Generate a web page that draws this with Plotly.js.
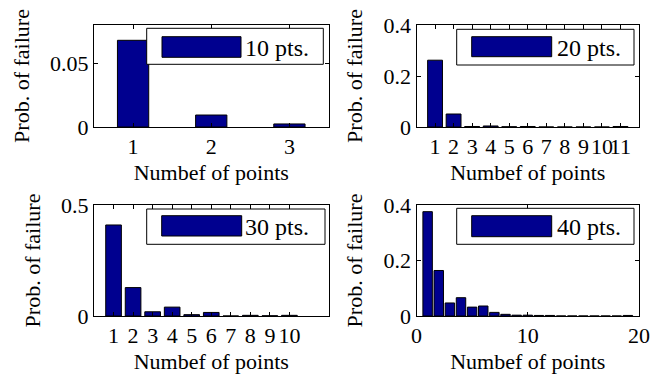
<!DOCTYPE html>
<html><head><meta charset="utf-8">
<script src="https://cdn.plot.ly/plotly-3.0.1.min.js"></script>
<style>html,body{margin:0;padding:0;background:#fff}</style>
</head><body><div id="chart" style="width:666px;height:380px"></div>
<script>
// ---- data ----
const pts10 = [1, 2, 3];
const prob10 = [0.068, 0.0094, 0.0024];
const pts20 = [1, 2, 3, 4, 5, 6, 7, 8, 9, 10, 11];
const prob20 = [0.262, 0.051, 0.002, 0.004, 0.001, 0.002, 0, 0, 0, 0, 0.002];
const pts30 = [1, 2, 3, 4, 5, 6, 7, 8, 9, 10];
const prob30 = [0.41, 0.128, 0.019, 0.040, 0.006, 0.016, 0, 0.003, 0.001, 0.003];
const pts40 = [1, 2, 3, 4, 5, 6, 7, 8, 9, 10, 11, 12, 13, 14, 15, 16, 17, 18, 19];
const prob40 = [0.376, 0.164, 0.047, 0.066, 0.032, 0.036, 0.013, 0.006, 0.003, 0.003, 0.002, 0.002, 0, 0, 0, 0, 0, 0, 0.002];
const seriesNames = ['10 pts.', '20 pts.', '30 pts.', '40 pts.'];
const xTicks10 = [1, 2, 3];
const xTicks20 = [1, 2, 3, 4, 5, 6, 7, 8, 9, 10, 11];
const xTicks30 = [1, 2, 3, 4, 5, 6, 7, 8, 9, 10];
const xTicks40 = [0, 10, 20];
const yTicks10 = [0, 0.05];
const yTicks20 = [0, 0.2, 0.4];
const yTicks30 = [0, 0.5];
const yTicks40 = [0, 0.2, 0.4];
const xTitle = 'Numbef of points';
const yTitle = 'Prob. of failure';

// ---- layout helpers ----
const W = 666, H = 380;
const fx = px => px / W;
const fy = py => 1 - py / H;
const BAR = 'rgb(0,0,143)';
const FONT = '"Liberation Serif", "Times New Roman", serif';

function trace(x, y, xa, ya, w) {
  return {type: 'bar', x: x, y: y, xaxis: xa, yaxis: ya, width: w,
    marker: {color: BAR, line: {color: '#000', width: 1}},
    showlegend: false, hoverinfo: 'none'};
}
function axis(extra) {
  return Object.assign({
    showline: true, linecolor: '#000', linewidth: 1, mirror: 'ticks',
    ticks: 'inside', ticklen: 4, tickcolor: '#000', showgrid: false,
    zeroline: false, tickangle: 0, fixedrange: true, tickmode: 'array',
    tickfont: {family: FONT, size: 22, color: '#000'}
  }, extra);
}
function xax(dom, range, ticks, anchor) {
  return axis({domain: [fx(dom[0]), fx(dom[1])], range: range, tickvals: ticks,
    anchor: anchor, title: {text: xTitle, font: {family: FONT, size: 22, color: '#000'}, standoff: 6}});
}
function yax(dom, range, ticks, anchor) {
  return axis({domain: [fy(dom[1]), fy(dom[0])], range: range, tickvals: ticks,
    anchor: anchor, title: {text: yTitle, font: {family: FONT, size: 22, color: '#000'}, standoff: 14}});
}

const data = [
  trace(pts10, prob10, 'x', 'y', 0.4),
  trace(pts20, prob20, 'x2', 'y2', 0.8),
  trace(pts30, prob30, 'x3', 'y3', 0.8),
  trace(pts40, prob40, 'x4', 'y4', 0.85)
];

const L = [94, 328.5], R = [416.5, 639], T = [25, 127], B = [205, 316];

// legend panels (box, patch, text-left) in pixel positions
const panels = [
  {box: [146.7, 323.3, 28.3, 64.3], patch: [162, 241, 36.7, 57.3], tx: 243},
  {box: [456.7, 634, 29.3, 65], patch: [471.7, 551.7, 36.7, 56.7], tx: 555},
  {box: [146.7, 325, 209, 244.3], patch: [161.7, 241.7, 215.7, 236], tx: 243},
  {box: [456.7, 634, 208.3, 244.3], patch: [471.7, 551.7, 215.7, 236.7], tx: 555}
];
const shapes = [], annotations = [];
panels.forEach((p, i) => {
  shapes.push({type: 'rect', xref: 'paper', yref: 'paper',
    x0: fx(p.box[0]), x1: fx(p.box[1]), y0: fy(p.box[3]), y1: fy(p.box[2]),
    line: {color: '#000', width: 1}, fillcolor: '#fff', layer: 'above'});
  shapes.push({type: 'rect', xref: 'paper', yref: 'paper',
    x0: fx(p.patch[0]), x1: fx(p.patch[1]), y0: fy(p.patch[3]), y1: fy(p.patch[2]),
    line: {color: '#000', width: 1}, fillcolor: BAR, layer: 'above'});
  annotations.push({xref: 'paper', yref: 'paper', x: fx(p.tx), y: fy((p.patch[2] + p.patch[3]) / 2 + 1),
    xanchor: 'left', yanchor: 'middle', showarrow: false, text: seriesNames[i],
    font: {family: FONT, size: 24, color: '#000'}});
});

const layout = {
  width: W, height: H, margin: {l: 0, r: 0, t: 0, b: 0},
  paper_bgcolor: '#fff', plot_bgcolor: '#fff', showlegend: false,
  font: {family: FONT, color: '#000'},
  xaxis: xax(L, [0.5, 3.5], xTicks10, 'y'),
  yaxis: yax(T, [0, 0.08], yTicks10, 'x'),
  xaxis2: xax(R, [0, 12], xTicks20, 'y2'),
  yaxis2: yax(T, [0, 0.4], yTicks20, 'x2'),
  xaxis3: xax(L, [0, 12], xTicks30, 'y3'),
  yaxis3: yax(B, [0, 0.5], yTicks30, 'x3'),
  xaxis4: xax(R, [0, 20], xTicks40, 'y4'),
  yaxis4: yax(B, [0, 0.4], yTicks40, 'x4'),
  shapes: shapes, annotations: annotations
};

Plotly.newPlot('chart', data, layout, {staticPlot: true, displayModeBar: false});
</script></body></html>
